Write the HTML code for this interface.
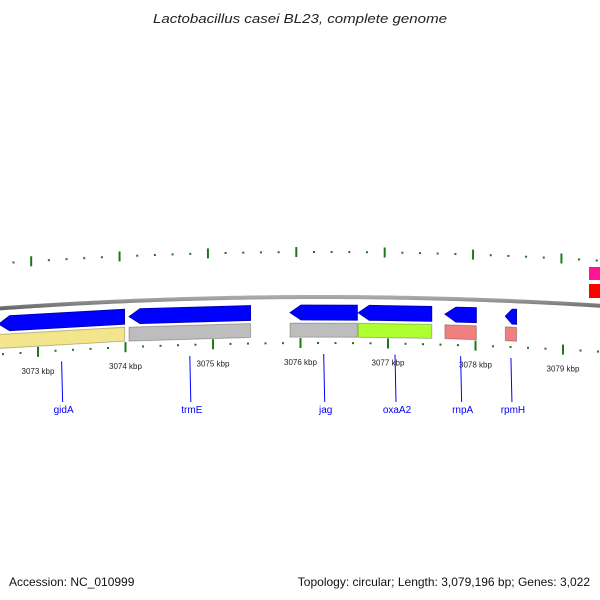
<!DOCTYPE html>
<html><head><meta charset="utf-8"><style>
html,body{margin:0;padding:0;background:#fff;}
svg{display:block;font-family:"Liberation Sans","DejaVu Sans",sans-serif;}
</style></head><body>
<svg id="map" width="600" height="600" viewBox="0 0 600 600">
<defs>
<linearGradient id="bb" x1="0" y1="0" x2="0" y2="1"><stop offset="0" stop-color="#aaa"/><stop offset="1" stop-color="#666"/></linearGradient>
</defs>
<text x="300" y="23" text-anchor="middle" font-size="13" font-style="italic" fill="#222" textLength="294" lengthAdjust="spacingAndGlyphs">Lactobacillus casei BL23, complete genome</text>
<g id="rings"></g>
<g id="feats"></g>
<g id="labels"></g>
<text x="9" y="586" font-size="12" fill="#111">Accession: NC_010999</text>
<text x="590" y="586" font-size="12" fill="#111" text-anchor="end">Topology: circular; Length: 3,079,196 bp; Genes: 3,022</text>
</svg>
<script>
const geneNames = ["gidA","trmE","jag","oxaA2","rnpA","rpmH"];
const geneStart = [3072.55,3074.04,3075.88,3076.66,3077.65,3078.34];
const geneEnd   = [3073.99,3075.43,3076.65,3077.50,3078.01,3078.47];
const geneStrand = [-1,-1,-1,-1,-1,-1];
const cogColors = ["#f2e58c","#bdbdbd","#bdbdbd","#adff2f","#f08080","#f08080"];
const tickLabels = [3073,3074,3075,3076,3077,3078,3079];

const NS="http://www.w3.org/2000/svg";
function xScale(kb){return 38+(kb-3073)*87.5;}
function curve(x){return 297+Math.pow(x-320,2)/9000;}
function el(tag,attrs,parent){const e=document.createElementNS(NS,tag);for(const k in attrs)e.setAttribute(k,attrs[k]);parent.appendChild(e);return e;}
const rings=document.getElementById('rings'),feats=document.getElementById('feats'),labels=document.getElementById('labels');

// backbone
let d="";for(let x=-5;x<=605;x+=5){d+=(x===-5?"M":"L")+x+","+curve(x).toFixed(2);}
const bb=el('path',{d:d,fill:'none',stroke:'url(#bb)','stroke-width':4},rings);



// ticks
for(let i=-3;i<=40;i++){
  const kb=3072.6+i*0.2; const kbr=Math.round(kb*5)/5;
  const major=Math.abs(kbr-Math.round(kbr))<0.01;
  const xi=xScale(kbr); if(xi<0||xi>600)continue;
  const yi=curve(xi)+46;
  const t=el('line',{x1:xi,x2:xi,y1:major?yi-5:yi-1,y2:major?yi+5:yi+1,stroke:'#1a7a1a','stroke-width':major?2:2},rings);
  
  
  const xo=320+(xi-320)*1.01-4; if(xo<0||xo>600)continue;
  const yo=curve(xo)-45;
  const t2=el('line',{x1:xo,x2:xo,y1:major?yo-5:yo-1,y2:major?yo+5:yo+1,stroke:'#1a7a1a','stroke-width':2},rings);
  
  
}
tickLabels.forEach(kb=>{
  const x=xScale(kb);
  const t=el('text',{x:x,y:curve(x)+68,'font-size':8,'text-anchor':'middle',fill:'#222'},labels);
  t.textContent=kb+" kbp";
  
  
});

function band(x1,x2,o1,o2,arrow){
  const pts=[];const ah=11;
  const xa=arrow<0?x1+Math.min(ah,(x2-x1)*0.6):x1;
  const xb=arrow>0?x2-Math.min(ah,(x2-x1)*0.6):x2;
  const mid=(o1+o2)/2;
  pts.push([xa,curve(xa)+o1]);pts.push([xb,curve(xb)+o1]);
  if(arrow>0)pts.push([x2,curve(x2)+mid]);
  pts.push([xb,curve(xb)+o2]);pts.push([xa,curve(xa)+o2]);
  if(arrow<0)pts.push([x1,curve(x1)+mid]);
  return pts.map(p=>p[0].toFixed(1)+","+p[1].toFixed(1)).join(" ");
}
geneNames.forEach((n,i)=>{
  const x1=xScale(geneStart[i]),x2=xScale(geneEnd[i]);
  const a=el('polygon',{points:band(x1,x2,8,23,geneStrand[i]),fill:'#0000ff',stroke:'#0000a8','stroke-width':0.8},feats);
  
  
  const c=el('polygon',{points:band(x1,x2,26,40,0),fill:cogColors[i],stroke:'rgba(0,0,0,0.25)','stroke-width':1},feats);
  
  
  const xm=(x1+x2)/2; const lx=Math.max(xm,43);
  const l=el('line',{x1:lx,x2:lx+1,y1:curve(lx)+57,y2:402,stroke:'#0000ff','stroke-width':1},labels);
  
  
  const t=el('text',{x:lx+2,y:413,'font-size':10,'text-anchor':'middle',fill:'#0000ff'},labels);
  t.textContent=n;
  
  
});
// features on right edge (outer lanes)
const r1=el('rect',{x:589,y:267,width:12,height:13,fill:'#ff1493'},feats);


const r2=el('rect',{x:589,y:284,width:12,height:14,fill:'#ff0000'},feats);


</script>
</body></html>
